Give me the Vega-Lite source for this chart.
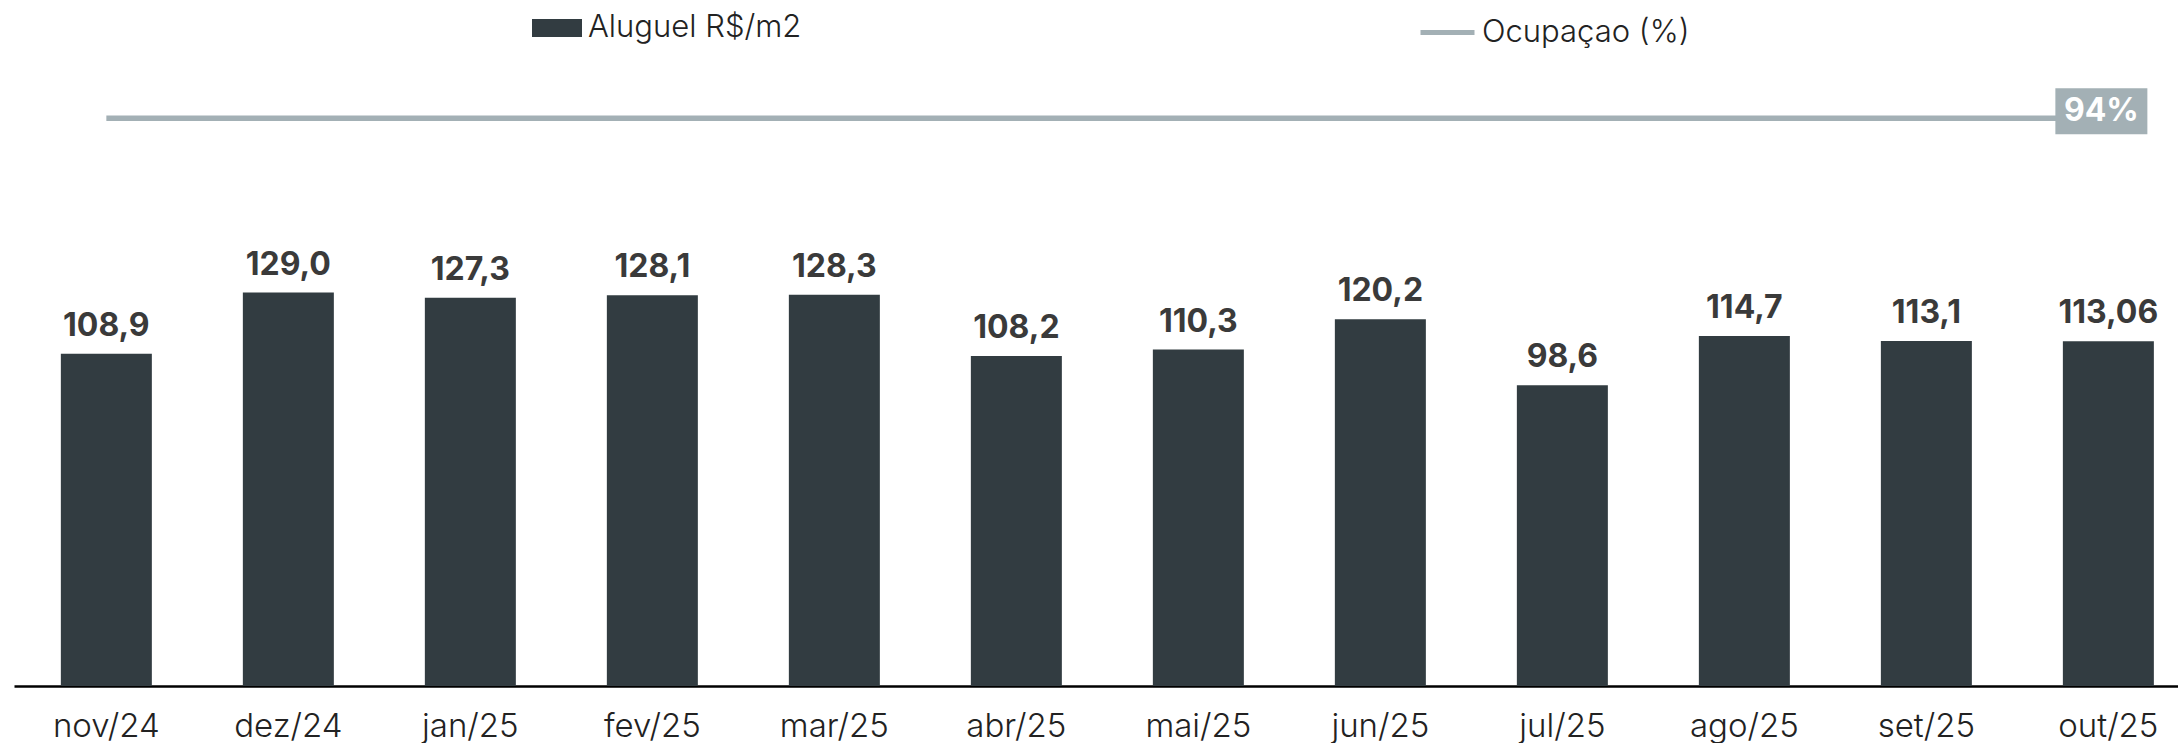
{
  "$schema": "https://vega.github.io/schema/vega-lite/v6.json",
  "autosize": "none",
  "padding": {"left": 14, "top": 50, "right": 0, "bottom": 57},
  "width": 2164,
  "height": 636,
  "background": "white",
  "data": {
    "values": [
      {"mes": "nov/24", "aluguel": 108.9, "rotulo": "108,9", "ocupacao": 94},
      {"mes": "dez/24", "aluguel": 129.0, "rotulo": "129,0", "ocupacao": 94},
      {"mes": "jan/25", "aluguel": 127.3, "rotulo": "127,3", "ocupacao": 94},
      {"mes": "fev/25", "aluguel": 128.1, "rotulo": "128,1", "ocupacao": 94},
      {"mes": "mar/25", "aluguel": 128.3, "rotulo": "128,3", "ocupacao": 94},
      {"mes": "abr/25", "aluguel": 108.2, "rotulo": "108,2", "ocupacao": 94},
      {"mes": "mai/25", "aluguel": 110.3, "rotulo": "110,3", "ocupacao": 94},
      {"mes": "jun/25", "aluguel": 120.2, "rotulo": "120,2", "ocupacao": 94},
      {"mes": "jul/25", "aluguel": 98.6, "rotulo": "98,6", "ocupacao": 94},
      {"mes": "ago/25", "aluguel": 114.7, "rotulo": "114,7", "ocupacao": 94},
      {"mes": "set/25", "aluguel": 113.1, "rotulo": "113,1", "ocupacao": 94},
      {"mes": "out/25", "aluguel": 113.06, "rotulo": "113,06", "ocupacao": 94}
    ]
  },
  "encoding": {
    "x": {
      "field": "mes",
      "type": "nominal",
      "sort": null,
      "scale": {"paddingInner": 0.5, "paddingOuter": 0.195, "align": 0.66},
      "axis": {
        "title": null,
        "labelAngle": 0,
        "labelFont": "Inter",
        "labelFontSize": 33,
        "labelFontWeight": 300,
        "labelColor": "#222222",
        "labelPadding": 24,
        "ticks": false,
        "domainColor": "#000000",
        "domainWidth": 2.5,
        "grid": false
      }
    }
  },
  "layer": [
    {
      "mark": {"type": "bar"},
      "encoding": {
        "y": {"field": "aluguel", "type": "quantitative", "scale": {"domain": [0, 208.5]}, "axis": null},
        "fill": {
          "datum": "Aluguel R$/m2",
          "scale": {"range": ["#323c41"]},
          "legend": {
            "title": null,
            "orient": "none",
            "legendX": 518,
            "legendY": -47,
            "padding": 0,
            "symbolType": "M-1,-0.36H1V0.36H-1Z",
            "symbolSize": 2500,
            "symbolStrokeWidth": 0,
            "labelFont": "Inter",
            "labelFontSize": 31,
            "labelFontWeight": 300,
            "labelLimit": 0,
            "labelColor": "#222222",
            "labelOffset": 6
          }
        }
      }
    },
    {
      "mark": {"type": "text", "baseline": "alphabetic", "dy": -18, "font": "Inter", "fontWeight": "bold", "fontSize": 32, "color": "#3a3a3a"},
      "encoding": {
        "y": {"field": "aluguel", "type": "quantitative", "scale": {"domain": [0, 208.5]}, "axis": null},
        "text": {"field": "rotulo"}
      }
    },
    {
      "mark": {"type": "line", "strokeWidth": 5.5},
      "encoding": {
        "y": {"field": "ocupacao", "type": "quantitative", "scale": {"domain": [0, 105.3]}, "axis": null},
        "stroke": {
          "datum": "Ocupaçao (%)",
          "scale": {"range": ["#a3b0b5"]},
          "legend": {
            "title": null,
            "orient": "none",
            "legendX": 1404,
            "legendY": -47,
            "padding": 0,
            "symbolType": "stroke",
            "symbolSize": 2916,
            "symbolStrokeWidth": 5,
            "labelFont": "Inter",
            "labelFontSize": 31,
            "labelFontWeight": 300,
            "labelLimit": 0,
            "labelColor": "#222222",
            "labelOffset": 5
          }
        }
      }
    },
    {
      "transform": [{"filter": "datum.mes == 'out/25'"}],
      "mark": {"type": "point", "shape": "M-1,-0.5H1V0.5H-1Z", "filled": true, "opacity": 1, "color": "#a3b0b5", "size": 8464, "xOffset": -7, "yOffset": -7},
      "encoding": {
        "y": {"field": "ocupacao", "type": "quantitative", "scale": {"domain": [0, 105.3]}, "axis": null}
      }
    },
    {
      "transform": [{"filter": "datum.mes == 'out/25'"}],
      "mark": {"type": "text", "baseline": "middle", "xOffset": -7, "yOffset": -7, "font": "Inter", "fontWeight": "bold", "fontSize": 32, "color": "white"},
      "encoding": {
        "y": {"field": "ocupacao", "type": "quantitative", "scale": {"domain": [0, 105.3]}, "axis": null},
        "text": {"value": "94%"}
      }
    }
  ],
  "resolve": {"scale": {"y": "independent"}},
  "config": {
    "view": {"stroke": null}
  }
}
